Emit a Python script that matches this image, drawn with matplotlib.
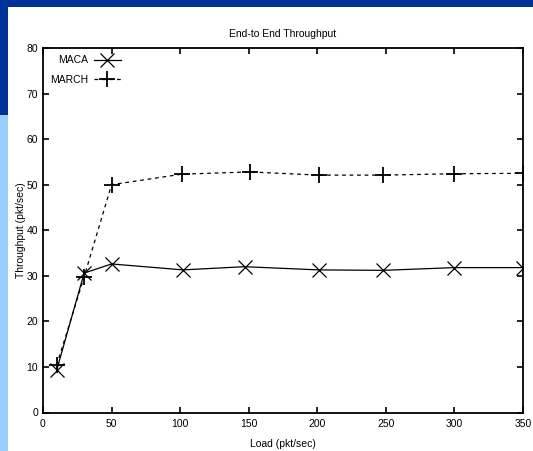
import matplotlib
matplotlib.use('Agg')
import matplotlib.pyplot as plt
from matplotlib.patches import Rectangle

# data
load_maca = [10, 30, 50, 102, 147, 201, 248, 300, 350]
thr_maca = [9.3, 30.6, 32.6, 31.3, 32.0, 31.3, 31.2, 31.8, 31.8]
load_march = [10, 30, 50, 101, 151, 201, 248, 300, 350]
thr_march = [10.4, 29.8, 50.0, 52.3, 52.8, 52.1, 52.1, 52.4, 52.5]

xticks = [0, 50, 100, 150, 200, 250, 300, 350]
yticks = [0, 10, 20, 30, 40, 50, 60, 70, 80]

plt.rcParams['font.family'] = ['Liberation Sans Narrow', 'Liberation Sans', 'DejaVu Sans']

fig = plt.figure(figsize=(5.33, 4.51), dpi=100)
fig.patch.set_facecolor('white')

# slide background: dark band on top, strip on the left
dark = '#003399'
light = '#99ccff'
fig.patches.append(Rectangle((0, 1 - 7.0 / 451), 1, 7.0 / 451, transform=fig.transFigure,
                             facecolor=dark, edgecolor='none', zorder=0))
fig.patches.append(Rectangle((0, 1 - 115.0 / 451), 8.0 / 533, 115.0 / 451, transform=fig.transFigure,
                             facecolor=dark, edgecolor='none', zorder=0))
fig.patches.append(Rectangle((0, 0), 8.0 / 533, 1 - 115.0 / 451, transform=fig.transFigure,
                             facecolor=light, edgecolor='none', zorder=0))

ax = fig.add_axes([43.0 / 533, 1 - 412.5 / 451, 480.0 / 533, 364.5 / 451])

ax.plot(load_maca, thr_maca, color='black', linewidth=0.9, marker='x',
        markersize=10, markeredgewidth=0.9, label='MACA')
ax.plot(load_march, thr_march, color='black', linewidth=0.9, linestyle=(0, (3, 3)),
        marker='+', markersize=11, markeredgewidth=1.3, label='MARCH')

ax.set_xlim(0, 350)
ax.set_ylim(0, 80)
ax.set_xticks(xticks)
ax.set_yticks(yticks)
ax.tick_params(direction='in', top=True, right=True, length=4, width=1.2,
               labelsize=7.5)
ax.tick_params(axis='x', pad=5)
ax.tick_params(axis='y', pad=3.5)
for s in ax.spines.values():
    s.set_linewidth(1.3)

ax.set_title('End-to End Throughput', fontsize=7.5, pad=8)
ax.set_xlabel('Load (pkt/sec)', fontsize=7.5, labelpad=7)
ax.set_ylabel('Throughput (pkt/sec)', fontsize=7.5, labelpad=0.5)

ax.legend(loc='upper left', frameon=False, markerfirst=False, fontsize=7.5,
          handlelength=2.6, handletextpad=0.5, borderaxespad=0.3,
          labelspacing=0.9, bbox_to_anchor=(0.0, 1.0))

fig.savefig('out.png', dpi=100)
